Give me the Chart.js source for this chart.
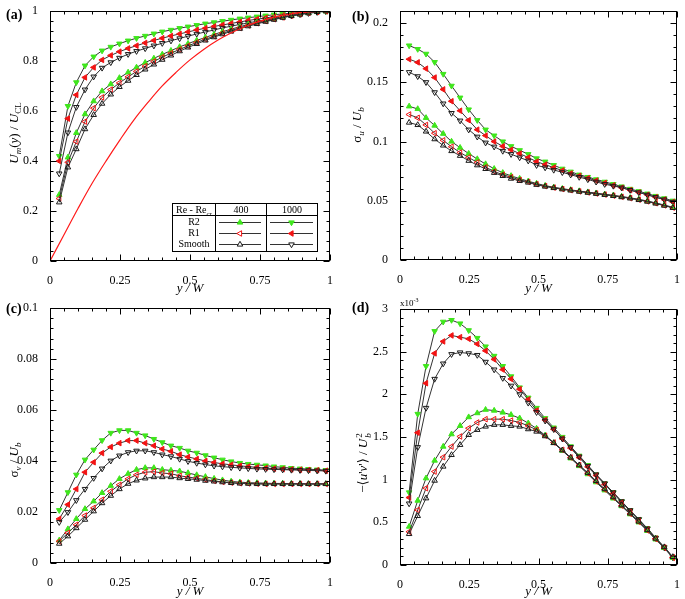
<!DOCTYPE html>
<html><head><meta charset="utf-8">
<script src="https://cdn.jsdelivr.net/npm/chart.js@4.4.1/dist/chart.umd.min.js"></script>
<style>
html,body{margin:0;padding:0;background:#fff;width:685px;height:599px;overflow:hidden;position:relative;font-family:"Liberation Serif","DejaVu Serif",serif;color:#000;}
.panel{position:absolute;}
.panel canvas{display:block;}
.plab{position:absolute;font-weight:bold;font-size:14px;line-height:1;}
.yt{position:absolute;transform:translate(-50%,-50%) rotate(-90deg);font-size:13px;line-height:1;white-space:nowrap;}
.yt sub,.yt sup{font-size:9px;line-height:0;}
.tt{position:absolute;transform:translate(-50%,-50%);font-size:10px;line-height:1;white-space:nowrap;}
.tt sub{font-size:7px;line-height:0;}
.stk{display:inline-flex;flex-direction:column;vertical-align:middle;font-size:9px;line-height:9px;margin-left:1px;}
</style></head>
<body>
<div class="panel" style="left:0;top:0"><canvas id="ca" width="342" height="296"></canvas></div>
<div class="panel" style="left:342px;top:0"><canvas id="cb" width="343" height="296"></canvas></div>
<div class="panel" style="left:0;top:296px"><canvas id="cc" width="342" height="303"></canvas></div>
<div class="panel" style="left:342px;top:296px"><canvas id="cd" width="343" height="303"></canvas></div>

<div class="plab" style="left:6px;top:8px">(a)</div>
<div class="plab" style="left:352px;top:10px">(b)</div>
<div class="plab" style="left:6px;top:302px">(c)</div>
<div class="plab" style="left:352px;top:301px">(d)</div>

<div class="yt" style="left:13px;top:133px"><i>U</i><sub><i>m</i></sub>(<i>y</i>) / <i>U</i><sub>CL</sub></div>
<div class="yt" style="left:356px;top:125px">σ<sub><i>u</i></sub> / <i>U</i><sub><i>b</i></sub></div>
<div class="yt" style="left:13px;top:460px">σ<sub><i>v</i></sub> / <i>U</i><sub><i>b</i></sub></div>
<div class="yt" style="left:364px;top:463px">−⟨<i>u</i>'<i>v</i>'⟩ / <i>U</i><span class="stk"><span>2</span><span><i>b</i></span></span></div>
<div style="position:absolute;left:400px;top:297px;font-size:9px;line-height:1;">x10<sup style="font-size:6px">-3</sup></div>

<div class="tt" style="left:194px;top:210px">Re - Re<sub>cr</sub></div>
<div class="tt" style="left:241px;top:210px">400</div>
<div class="tt" style="left:292px;top:210px">1000</div>
<div class="tt" style="left:194px;top:222px">R2</div>
<div class="tt" style="left:194px;top:233px">R1</div>
<div class="tt" style="left:194px;top:244px">Smooth</div>

<script>
// ---------- data ----------
const yW = [0.033,0.064,0.094,0.125,0.156,0.186,0.217,0.248,0.279,0.309,0.340,0.371,0.401,0.432,0.463,0.493,0.524,0.555,0.586,0.616,0.647,0.678,0.708,0.739,0.770,0.800,0.831,0.862,0.893,0.923,0.954,0.985];

const xTickVals = [0,0.25,0.5,0.75,1];
const xTickLabels = ['0','0.25','0.5','0.75','1'];

// (a) mean velocity
const aTickVals = [0,0.2,0.4,0.6,0.8,1];
const aTickLabels = ['0','0.2','0.4','0.6','0.8','1'];
const aR2_1000 = [0.42,0.62,0.715,0.782,0.818,0.842,0.857,0.870,0.882,0.892,0.901,0.910,0.918,0.925,0.932,0.938,0.944,0.950,0.955,0.960,0.965,0.970,0.974,0.978,0.982,0.986,0.989,0.992,0.995,0.997,0.999,1.0];
const aR1_1000 = [0.40,0.57,0.665,0.735,0.775,0.805,0.823,0.838,0.851,0.862,0.873,0.883,0.892,0.901,0.909,0.917,0.925,0.932,0.939,0.945,0.951,0.957,0.963,0.968,0.973,0.978,0.983,0.987,0.991,0.995,0.998,1.0];
const aSm_1000 = [0.35,0.514,0.616,0.686,0.738,0.773,0.795,0.813,0.828,0.840,0.851,0.862,0.872,0.882,0.891,0.900,0.909,0.917,0.925,0.933,0.940,0.947,0.953,0.960,0.966,0.972,0.977,0.982,0.987,0.992,0.996,1.0];
const aR2_400 = [0.265,0.415,0.513,0.588,0.640,0.680,0.708,0.733,0.755,0.775,0.794,0.811,0.827,0.842,0.857,0.870,0.883,0.895,0.907,0.918,0.928,0.938,0.947,0.955,0.963,0.970,0.977,0.983,0.988,0.993,0.997,1.0];
const aR1_400 = [0.25,0.395,0.478,0.558,0.612,0.655,0.686,0.713,0.737,0.759,0.780,0.799,0.816,0.832,0.847,0.861,0.875,0.888,0.900,0.912,0.923,0.933,0.943,0.952,0.960,0.968,0.975,0.982,0.988,0.993,0.997,1.0];
const aSm_400 = [0.235,0.375,0.448,0.528,0.585,0.630,0.667,0.697,0.722,0.745,0.767,0.787,0.806,0.823,0.840,0.855,0.869,0.883,0.896,0.908,0.919,0.930,0.940,0.949,0.958,0.966,0.974,0.981,0.987,0.992,0.997,1.0];
const lamX = [0,0.05,0.1,0.15,0.2,0.25,0.3,0.35,0.4,0.45,0.5,0.55,0.6,0.65,0.7,0.75,0.8,0.85,0.9,0.95,1.0];
const lamU = [0,0.105,0.21,0.31,0.40,0.485,0.565,0.635,0.70,0.755,0.805,0.848,0.885,0.915,0.94,0.96,0.976,0.987,0.995,0.999,1.0];

// (b) sigma_u
const bTickVals = [0,0.05,0.1,0.15,0.2];
const bTickLabels = ['0','0.05','0.1','0.15','0.2'];
const bR2_1000 = [0.181,0.178,0.174,0.167,0.157,0.147,0.137,0.127,0.118,0.110,0.105,0.100,0.096,0.0926,0.0893,0.0857,0.083,0.080,0.077,0.0745,0.072,0.070,0.068,0.066,0.064,0.062,0.060,0.058,0.056,0.054,0.052,0.050];
const bR1_1000 = [0.1695,0.1668,0.1615,0.154,0.144,0.134,0.126,0.118,0.110,0.105,0.100,0.096,0.093,0.0898,0.0865,0.083,0.0805,0.078,0.0755,0.073,0.071,0.069,0.067,0.065,0.063,0.061,0.059,0.057,0.055,0.053,0.051,0.049];
const bSm_1000 = [0.1585,0.155,0.150,0.1415,0.132,0.124,0.1176,0.110,0.104,0.099,0.0956,0.092,0.0893,0.0865,0.0838,0.080,0.078,0.076,0.074,0.072,0.070,0.068,0.066,0.064,0.0625,0.061,0.059,0.057,0.055,0.053,0.051,0.049];
const bR2_400 = [0.1297,0.1275,0.120,0.1135,0.1066,0.100,0.0948,0.0898,0.0852,0.081,0.077,0.0736,0.071,0.0687,0.0665,0.0646,0.0628,0.0614,0.0602,0.0592,0.0582,0.0573,0.0564,0.0555,0.0546,0.0536,0.0525,0.0512,0.0498,0.0482,0.0464,0.0445];
const bR1_400 = [0.1228,0.120,0.114,0.107,0.101,0.0956,0.0907,0.0865,0.0824,0.0783,0.0747,0.072,0.070,0.0676,0.066,0.064,0.0624,0.0611,0.0599,0.0589,0.0579,0.0570,0.0561,0.0552,0.0543,0.0533,0.0522,0.0509,0.0495,0.0479,0.0461,0.0442];
const bSm_400 = [0.116,0.114,0.1085,0.102,0.0967,0.092,0.088,0.0838,0.080,0.0769,0.0736,0.071,0.0687,0.0668,0.0654,0.0635,0.0620,0.0608,0.0597,0.0587,0.0577,0.0568,0.0559,0.0550,0.0541,0.0531,0.0520,0.0507,0.0493,0.0477,0.0459,0.0440];

// (c) sigma_v
const cTickVals = [0,0.02,0.04,0.06,0.08,0.1];
const cTickLabels = ['0','0.02','0.04','0.06','0.08','0.1'];
const cR2_1000 = [0.0207,0.0277,0.0346,0.0405,0.0444,0.0481,0.051,0.052,0.052,0.051,0.050,0.0486,0.0473,0.046,0.0451,0.044,0.0432,0.0422,0.0413,0.0405,0.0398,0.0392,0.0388,0.0385,0.0382,0.0378,0.0375,0.0372,0.037,0.0368,0.0366,0.0364];
const cR1_1000 = [0.0173,0.0229,0.029,0.0356,0.0395,0.0431,0.0455,0.047,0.048,0.048,0.047,0.046,0.0447,0.0438,0.0425,0.0416,0.0408,0.040,0.0394,0.0389,0.0385,0.0381,0.0378,0.0375,0.0372,0.037,0.0368,0.0367,0.0366,0.0365,0.0364,0.0362];
const cSm_1000 = [0.016,0.0199,0.0246,0.029,0.0333,0.037,0.0401,0.0421,0.0434,0.044,0.044,0.0434,0.0425,0.0418,0.0408,0.0399,0.0392,0.0386,0.0381,0.0378,0.0375,0.0373,0.0371,0.0369,0.0368,0.0367,0.0366,0.0365,0.0364,0.0363,0.0362,0.0361];
const cR2_400 = [0.0089,0.0133,0.0173,0.0212,0.0242,0.0275,0.0303,0.033,0.035,0.0366,0.0373,0.0373,0.0366,0.0363,0.036,0.0353,0.0345,0.0338,0.0331,0.0325,0.032,0.0317,0.0315,0.0314,0.0313,0.0312,0.0312,0.0311,0.0311,0.031,0.031,0.031];
const cR1_400 = [0.0085,0.0118,0.015,0.0186,0.0216,0.0248,0.0281,0.0307,0.033,0.0346,0.0356,0.0358,0.0353,0.035,0.0342,0.0337,0.0332,0.0327,0.0322,0.0318,0.0315,0.0313,0.0312,0.0311,0.031,0.031,0.031,0.031,0.031,0.031,0.031,0.031];
const cSm_400 = [0.0076,0.0105,0.0137,0.017,0.0203,0.0235,0.0264,0.029,0.0311,0.0324,0.0332,0.0337,0.0337,0.0337,0.0333,0.033,0.0327,0.0323,0.032,0.0317,0.0314,0.0312,0.0311,0.031,0.031,0.031,0.031,0.031,0.031,0.031,0.031,0.031];

// (d) -<u'v'> (x 1e-3)
const dTickVals = [0,0.5,1,1.5,2,2.5,3];
const dTickLabels = ['0','0.5','1','1.5','2','2.5','3'];
const dR2_1000 = [0.85,1.77,2.33,2.74,2.85,2.87,2.83,2.75,2.66,2.56,2.45,2.33,2.21,2.08,1.96,1.84,1.72,1.61,1.50,1.39,1.28,1.17,1.06,0.955,0.85,0.745,0.64,0.535,0.43,0.32,0.21,0.09];
const dR1_1000 = [0.79,1.55,2.13,2.48,2.62,2.69,2.67,2.65,2.59,2.51,2.41,2.29,2.18,2.06,1.94,1.81,1.70,1.59,1.48,1.37,1.26,1.15,1.05,0.945,0.84,0.735,0.63,0.525,0.42,0.31,0.20,0.085];
const dSm_1000 = [0.72,1.38,1.84,2.18,2.36,2.47,2.49,2.48,2.46,2.38,2.29,2.19,2.10,2.00,1.90,1.79,1.69,1.59,1.48,1.38,1.27,1.16,1.06,0.955,0.85,0.745,0.64,0.535,0.425,0.315,0.205,0.09];
const dR2_400 = [0.45,0.755,1.017,1.224,1.388,1.533,1.631,1.733,1.78,1.82,1.81,1.787,1.76,1.72,1.662,1.60,1.52,1.43,1.34,1.25,1.16,1.065,0.97,0.875,0.78,0.69,0.595,0.50,0.40,0.30,0.20,0.085];
const dR1_400 = [0.39,0.645,0.90,1.095,1.263,1.388,1.506,1.603,1.67,1.709,1.709,1.709,1.693,1.67,1.631,1.584,1.515,1.435,1.35,1.26,1.17,1.075,0.98,0.885,0.79,0.695,0.60,0.505,0.405,0.305,0.205,0.09];
const dSm_400 = [0.364,0.575,0.782,0.989,1.154,1.29,1.408,1.525,1.584,1.623,1.643,1.643,1.631,1.623,1.592,1.564,1.51,1.43,1.345,1.26,1.17,1.08,0.985,0.89,0.795,0.70,0.605,0.51,0.41,0.31,0.21,0.095];

// ---------- styles ----------
const GREEN = '#3fe61c', RED = '#f21313', BLK = '#1a1a1a', LINE = '#333333';
const CLEAR = 'rgba(255,255,255,0)';
const STY = {
  R2_400:  {rot:0,   fill:GREEN, stroke:GREEN},
  R2_1000: {rot:180, fill:GREEN, stroke:GREEN},
  R1_400:  {rot:-90, fill:CLEAR, stroke:RED},
  R1_1000: {rot:-90, fill:RED,   stroke:RED},
  Sm_400:  {rot:0,   fill:CLEAR, stroke:BLK},
  Sm_1000: {rot:180, fill:CLEAR, stroke:BLK}
};
const PR = 3.2;
const FONT = {family:'"Liberation Serif", "DejaVu Serif", serif', size:12};
const TFONT = {family:'"Liberation Serif", "DejaVu Serif", serif', size:13, style:'italic', lineHeight:1.1};

function mk(label, ys, key){
  const s = STY[key];
  return {label, data: yW.map((x,i)=>({x, y: ys[i]})), borderColor: LINE, borderWidth:1,
    pointStyle:'triangle', pointRotation:s.rot, pointRadius:PR, pointBorderWidth:1,
    pointBackgroundColor:s.fill, pointBorderColor:s.stroke, tension:0, fill:false};
}

function drawTri(ctx, x, y, r, rotDeg, fill, stroke){
  let rad = rotDeg*Math.PI/180;
  ctx.beginPath();
  for (let k=0;k<3;k++){
    const px = x + Math.sin(rad)*r, py = y - Math.cos(rad)*r;
    if (k===0) ctx.moveTo(px,py); else ctx.lineTo(px,py);
    rad += 2*Math.PI/3;
  }
  ctx.closePath();
  ctx.fillStyle = fill; ctx.fill();
  ctx.strokeStyle = stroke; ctx.lineWidth = 1; ctx.stroke();
}

// frame with inward major/minor ticks on all sides
const boxTicks = {
  id:'boxTicks',
  afterDatasetsDraw(chart, args, o){
    const {ctx, chartArea:ca} = chart;
    const xs = chart.scales.x, ys = chart.scales.y;
    const L = Math.round(ca.left)+0.5, R = Math.round(ca.right)-0.5;
    const T = Math.round(ca.top)+0.5, B = Math.round(ca.bottom)-0.5;
    ctx.save();
    ctx.strokeStyle = '#000'; ctx.lineWidth = 1;
    ctx.beginPath();
    const nx = Math.round((xs.max-xs.min)/o.xMinor);
    for (let i=0;i<=nx;i++){
      const v = xs.min + i*o.xMinor, len = (i%o.xEvery===0)?6:3;
      const p = Math.round(xs.getPixelForValue(v))+0.5;
      ctx.moveTo(p,B); ctx.lineTo(p,B-len); ctx.moveTo(p,T); ctx.lineTo(p,T+len);
    }
    const ny = Math.round((ys.max-ys.min)/o.yMinor);
    for (let i=0;i<=ny;i++){
      const v = ys.min + i*o.yMinor, len = (i%o.yEvery===0)?6:3;
      const p = Math.round(ys.getPixelForValue(v))+0.5;
      ctx.moveTo(L,p); ctx.lineTo(L+len,p); ctx.moveTo(R,p); ctx.lineTo(R-len,p);
    }
    ctx.stroke();
    ctx.strokeRect(L,T,R-L,B-T);
    ctx.restore();
  }
};

// legend table of panel (a)
const legendTable = {
  id:'legendTable',
  afterDraw(chart){
    const ctx = chart.ctx;
    ctx.save();
    ctx.fillStyle = '#fff';
    ctx.fillRect(172.5,203.5,145,48);
    ctx.strokeStyle = '#000'; ctx.lineWidth = 1;
    ctx.strokeRect(172.5,203.5,145,48);
    ctx.beginPath();
    ctx.moveTo(172.5,215.5); ctx.lineTo(317.5,215.5);
    ctx.moveTo(215.5,203.5); ctx.lineTo(215.5,251.5);
    ctx.moveTo(266.5,203.5); ctx.lineTo(266.5,251.5);
    ctx.stroke();
    const rows = [[222.5,'R2_400','R2_1000'],[233.5,'R1_400','R1_1000'],[244.5,'Sm_400','Sm_1000']];
    ctx.strokeStyle = LINE;
    rows.forEach(r=>{
      ctx.beginPath();
      ctx.moveTo(219,r[0]); ctx.lineTo(261,r[0]);
      ctx.moveTo(270,r[0]); ctx.lineTo(313,r[0]);
      ctx.strokeStyle = LINE; ctx.lineWidth = 1; ctx.stroke();
      const s1 = STY[r[1]], s2 = STY[r[2]];
      drawTri(ctx, 240, r[0], PR, s1.rot, s1.fill==CLEAR?'#fff':s1.fill, s1.stroke);
      drawTri(ctx, 291.5, r[0], PR, s2.rot, s2.fill==CLEAR?'#fff':s2.fill, s2.stroke);
    });
    ctx.restore();
  }
};

function makeChart(id, datasets, cfg){
  return new Chart(document.getElementById(id), {
    type:'line',
    data:{datasets},
    options:{
      responsive:false, animation:false, devicePixelRatio:1,
      layout:{padding:{left:0, top:cfg.padTop, right:cfg.padRight, bottom:0}},
      plugins:{legend:{display:false}, tooltip:{enabled:false},
        boxTicks:{xMinor:0.05, xEvery:5, yMinor:cfg.yMinor, yEvery:5}},
      scales:{
        x:{type:'linear', min:0, max:1,
          afterBuildTicks: s=>{ s.ticks = xTickVals.map(v=>({value:v})); },
          ticks:{callback:(v,i)=>xTickLabels[i], font:FONT, color:'#000', padding:5, maxRotation:0, autoSkip:false},
          grid:{display:false}, border:{display:false},
          title:{display:true, text:'y / W', font:TFONT, color:'#000', padding:0},
          afterFit: s=>{ s.height = cfg.xH; }},
        y:{type:'linear', min:0, max:cfg.yMax,
          afterBuildTicks: s=>{ s.ticks = cfg.yTicks.map(v=>({value:v})); },
          ticks:{callback:(v,i)=>cfg.yLabels[i], font:FONT, color:'#000', padding:4, autoSkip:false},
          grid:{display:false}, border:{display:false},
          afterFit: s=>{ s.width = cfg.yW; }}
      }
    },
    plugins:[boxTicks].concat(cfg.extra||[])
  });
}

const lamSet = {label:'Laminar', data: lamX.map((x,i)=>({x, y: lamU[i]})), borderColor:'#ff1a1a', borderWidth:1.2, pointRadius:0, tension:0.35, fill:false};

makeChart('ca', [
  lamSet,
  mk('Smooth 400', aSm_400, 'Sm_400'), mk('R1 400', aR1_400, 'R1_400'), mk('R2 400', aR2_400, 'R2_400'),
  mk('Smooth 1000', aSm_1000, 'Sm_1000'), mk('R1 1000', aR1_1000, 'R1_1000'), mk('R2 1000', aR2_1000, 'R2_1000')
], {padTop:6, padRight:12, yW:50, xH:35, yMax:1, yTicks:aTickVals, yLabels:aTickLabels, yMinor:0.04, extra:[legendTable]});

makeChart('cb', [
  mk('Smooth 400', bSm_400, 'Sm_400'), mk('R1 400', bR1_400, 'R1_400'), mk('R2 400', bR2_400, 'R2_400'),
  mk('Smooth 1000', bSm_1000, 'Sm_1000'), mk('R1 1000', bR1_1000, 'R1_1000'), mk('R2 1000', bR2_1000, 'R2_1000')
], {padTop:5, padRight:6, yW:58, xH:36, yMax:0.21, yTicks:bTickVals, yLabels:bTickLabels, yMinor:0.01});

makeChart('cc', [
  mk('Smooth 400', cSm_400, 'Sm_400'), mk('R1 400', cR1_400, 'R1_400'), mk('R2 400', cR2_400, 'R2_400'),
  mk('Smooth 1000', cSm_1000, 'Sm_1000'), mk('R1 1000', cR1_1000, 'R1_1000'), mk('R2 1000', cR2_1000, 'R2_1000')
], {padTop:12, padRight:12, yW:50, xH:36, yMax:0.1, yTicks:cTickVals, yLabels:cTickLabels, yMinor:0.004});

makeChart('cd', [
  mk('Smooth 400', dSm_400, 'Sm_400'), mk('R1 400', dR1_400, 'R1_400'), mk('R2 400', dR2_400, 'R2_400'),
  mk('Smooth 1000', dSm_1000, 'Sm_1000'), mk('R1 1000', dR1_1000, 'R1_1000'), mk('R2 1000', dR2_1000, 'R2_1000')
], {padTop:13, padRight:6, yW:58, xH:34, yMax:3, yTicks:dTickVals, yLabels:dTickLabels, yMinor:0.1});
</script>
</body></html>
